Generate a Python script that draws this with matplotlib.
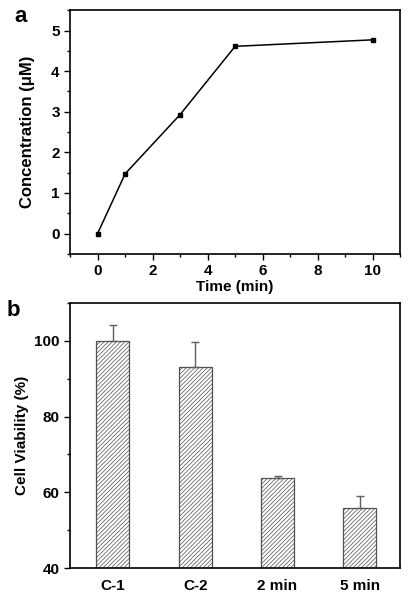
import matplotlib
matplotlib.use("Agg")
import matplotlib.pyplot as plt
from matplotlib.ticker import MultipleLocator

plt.rcParams['font.family'] = ['Liberation Sans', 'DejaVu Sans']
plt.rcParams['font.weight'] = 'bold'
plt.rcParams['hatch.linewidth'] = 0.5
plt.rcParams['hatch.color'] = '#808080'

# panel a data
time_min = [0, 1, 3, 5, 10]
conc_uM = [0, 1.47, 2.93, 4.61, 4.77]

# panel b data
groups = ["C-1", "C-2", "2 min", "5 min"]
viability = [100, 93.2, 63.7, 55.8]
viability_err = [4.1, 6.6, 0.6, 3.1]

fig = plt.figure(figsize=(4.1, 6.0), dpi=100)

# ---- panel a
ax1 = fig.add_axes([0.171, 0.577, 0.805, 0.406])
ax1.plot(time_min, conc_uM, color='black', lw=1.1, marker='s', ms=3)
ax1.set_xlim(-1, 11)
ax1.set_ylim(-0.5, 5.5)
ax1.xaxis.set_major_locator(MultipleLocator(2))
ax1.xaxis.set_minor_locator(MultipleLocator(1))
ax1.yaxis.set_major_locator(MultipleLocator(1))
ax1.yaxis.set_minor_locator(MultipleLocator(0.5))
ax1.tick_params(which='major', length=4, width=1, labelsize=11)
ax1.tick_params(which='minor', length=2.5, width=1)
ax1.set_xlabel("Time (min)", fontsize=11, fontweight='bold', labelpad=1)
ax1.set_ylabel("Concentration (\u03bcM)", fontsize=12, fontweight='bold', labelpad=12)
for s in ax1.spines.values():
    s.set_linewidth(1.2)
fig.text(0.035, 0.972, "a", fontsize=16, fontweight='bold', va='center')

# ---- panel b
ax2 = fig.add_axes([0.171, 0.0533, 0.805, 0.4417])
xpos = [1, 2, 3, 4]
ax2.bar(xpos, viability, width=0.4, bottom=0, color='white', edgecolor='#505050',
        linewidth=0.9, hatch='////////')
ax2.errorbar(xpos, viability, yerr=[[0] * 4, viability_err], fmt='none',
             ecolor='#606060', elinewidth=1, capsize=3, capthick=1)
ax2.set_xlim(0.48, 4.49)
ax2.set_ylim(40, 110)
ax2.set_xticks(xpos)
ax2.set_xticklabels(groups)
ax2.yaxis.set_major_locator(MultipleLocator(20))
ax2.yaxis.set_minor_locator(MultipleLocator(10))
ax2.tick_params(axis='x', length=0, pad=8, labelsize=11)
ax2.tick_params(axis='y', which='major', length=4, width=1, labelsize=11)
ax2.tick_params(axis='y', which='minor', length=2.5, width=1)
ax2.set_ylabel("Cell Viability (%)", fontsize=11, fontweight='bold', labelpad=4)
for s in ax2.spines.values():
    s.set_linewidth(1.2)
fig.text(0.015, 0.483, "b", fontsize=16, fontweight='bold', va='center')

fig.savefig("out.png", dpi=100)
